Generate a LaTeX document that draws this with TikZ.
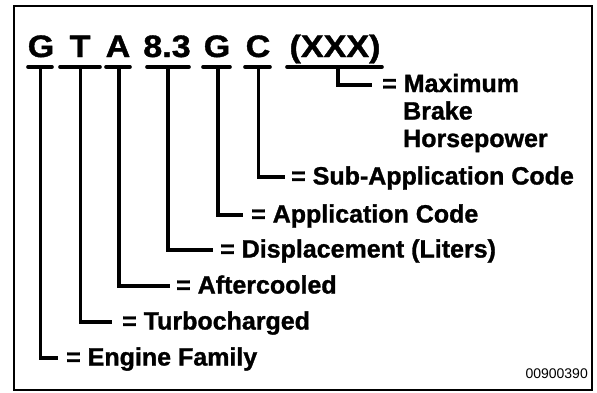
\documentclass[tikz,border=0pt]{standalone}
\usepackage{fontspec}
\setmainfont{Liberation Sans}[BoldFont={Liberation Sans Bold}]
\newfontfamily\heavyfont{Liberation Sans Bold}[FakeBold=1.2]
\newfontfamily\plainfont{Liberation Sans}
\begin{document}
\begin{tikzpicture}[x=1pt,y=-1pt,
  code/.style={font=\heavyfont\fontsize{31}{31}\selectfont, inner sep=0pt, anchor=base, xscale=1.1},
  lab/.style={font=\heavyfont\fontsize{25}{27}\selectfont, inner sep=0pt, anchor=base west},
  ul/.style={line width=3.6pt, line cap=round},
  conn/.style={line width=3.4pt, line cap=butt, line join=miter},
  frame/.style={line width=2pt}]
\useasboundingbox (0,0) rectangle (597,392);
\draw[frame] (14,6) rectangle (592,390);
% code letters
\node[code] (cG1) at (41,57) {G};
\node[code] (cT) at (80,57) {T};
\node[code] (cA) at (118,57) {A};
\node[code] (cD) at (167,57) {8.3};
\node[code] (cG2) at (217,57) {G};
\node[code] (cC) at (258,57) {C};
\node[code] (cX) at (335,57) {(XXX)};
% underlines
\draw[ul] (28,67) -- (52,67);
\draw[ul] (60,67) -- (100,67);
\draw[ul] (106,67) -- (130,67);
\draw[ul] (147,67) -- (189,67);
\draw[ul] (203,67) -- (230,67);
\draw[ul] (245,67) -- (270,67);
\draw[ul] (287,67) -- (382,67);
% stem tops
\coordinate (sG1) at (40.5,67);
\coordinate (sT) at (80.5,67);
\coordinate (sA) at (119,67);
\coordinate (sD) at (168,67);
\coordinate (sG2) at (218,67);
\coordinate (sC) at (258.5,67);
\coordinate (sX) at (338,67);
% bar ends
\coordinate (eG1) at (58,358);
\coordinate (eT) at (112,322);
\coordinate (eA) at (170,286);
\coordinate (eD) at (213,250);
\coordinate (eG2) at (243,215);
\coordinate (eC) at (285,177);
\coordinate (eX) at (372,85);
% connectors
\draw[conn] (sG1) |- (eG1);
\draw[conn] (sT) |- (eT);
\draw[conn] (sA) |- (eA);
\draw[conn] (sD) |- (eD);
\draw[conn] (sG2) |- (eG2);
\draw[conn] (sC) |- (eC);
\draw[conn] (sX) |- (eX);
% labels
\node[lab] (lG1) at (66,365.5) {= Engine Family};
\node[lab] (lT) at (122,329.5) {= Turbocharged};
\node[lab] (lA) at (176,293.5) {= Aftercooled};
\node[lab] (lD) at (220,257.5) {= Displacement (Liters)};
\node[lab] (lG2) at (251,222.5) {= Application Code};
\node[lab] (lC) at (291,184.5) {= Sub-Application Code};
\node[lab] (lX) at (382,92) {= Maximum};
\node[lab] (lX2) at (403,119.5) {Brake};
\node[lab] (lX3) at (403,147) {Horsepower};
\node[font=\plainfont\fontsize{14}{14}\selectfont, inner sep=0pt, anchor=base east] (num) at (588,378) {00900390};
\end{tikzpicture}
\end{document}
